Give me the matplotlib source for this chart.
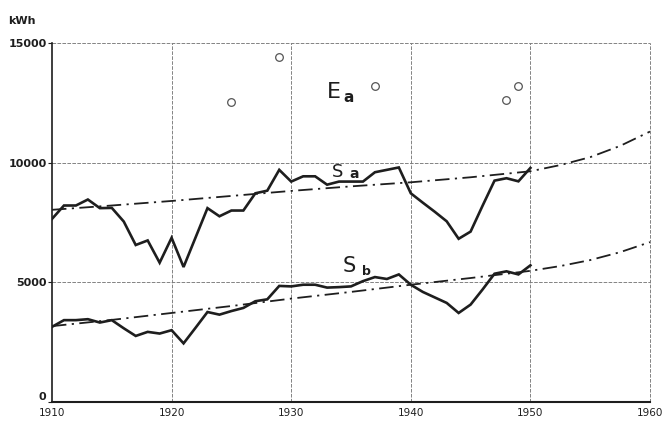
import numpy as np
import matplotlib
matplotlib.use("Agg")
import matplotlib.pyplot as plt

# --- data ---
years = list(range(1910, 1951))
sa = [7650, 8210, 8210, 8460, 8100, 8110, 7540, 6560, 6750, 5820,
      6860, 5640, 6870, 8100, 7760, 8000, 8000, 8720, 8830, 9700,
      9210, 9430, 9430, 9080, 9210, 9210, 9210, 9600, 9700, 9800,
      8720, 8330, 7950, 7550, 6820, 7120, 8200, 9250, 9350, 9220,
      9780]
sb = [3140, 3420, 3420, 3460, 3320, 3420, 3080, 2760, 2930, 2860,
      3000, 2450, 3100, 3760, 3650, 3800, 3930, 4210, 4290, 4850,
      4830, 4900, 4900, 4780, 4800, 4830, 5050, 5220, 5140, 5330,
      4900, 4600, 4370, 4140, 3720, 4070, 4700, 5360, 5460, 5330,
      5710]

trend_years = [1910, 1915, 1920, 1925, 1930, 1935, 1940, 1945, 1950,
               1952.5, 1955, 1957.5, 1960]
sa_trend = [8030, 8210, 8400, 8610, 8820, 9010, 9180, 9390, 9640,
            9900, 10230, 10700, 11300]
sb_trend = [3170, 3430, 3720, 4010, 4320, 4600, 4900, 5180, 5480,
            5680, 5930, 6260, 6680]

ea_years = [1925, 1929, 1937, 1948, 1949]
ea = [12540, 14420, 13210, 12630, 13210]

xticks = [1910, 1920, 1930, 1940, 1950, 1960]
yticks = [0, 5000, 10000, 15000]

#%%
fig = plt.figure(figsize=(6.62, 4.23), dpi=100)
ax = fig.add_axes([52/662, 21/423, 598/662, 359/423])

ink = '#1e1e1e'
gridc = '#7a7a7a'
grid_ls = (0, (4, 1.5))

for x in xticks[1:]:
    ax.axvline(x, color=gridc, lw=0.65, ls=grid_ls, clip_on=False, zorder=1)
for y in yticks[1:]:
    ax.axhline(y, color=gridc, lw=0.65, ls=grid_ls, clip_on=False, zorder=1)

dashdot = (0, (8, 3, 1.2, 3))
ax.plot(trend_years, sa_trend, color=ink, lw=1.3, ls=dashdot, zorder=2)
ax.plot(trend_years, sb_trend, color=ink, lw=1.3, ls=dashdot, zorder=2)

ax.plot(years, sa, color=ink, lw=1.9, solid_joinstyle='miter', zorder=3)
ax.plot(years, sb, color=ink, lw=1.9, solid_joinstyle='miter', zorder=3)

ax.plot(ea_years, ea, 'o', ms=5.5, mfc='white', mec='#555555', mew=0.9, zorder=4)

# curve labels
ax.text(1933.0, 12700, 'E', fontsize=16, color=ink, va='baseline')
ax.text(1934.4, 12550, 'a', fontsize=11, weight='bold', color=ink, va='baseline')
ax.text(1933.4, 9420, 'S', fontsize=13, color=ink, va='baseline')
ax.text(1934.9, 9375, 'a', fontsize=10, weight='bold', color=ink, va='baseline')
ax.text(1934.3, 5420, 'S', fontsize=15, color=ink, va='baseline')
ax.text(1935.9, 5290, 'b', fontsize=9, weight='bold', color=ink, va='baseline')

ax.set_xlim(1910, 1960)
ax.set_ylim(0, 15000)
ax.set_xticks(xticks)
ax.set_yticks(yticks)
ax.set_yticklabels([str(v) for v in yticks], fontsize=8, weight='bold', color=ink)
ax.set_xticklabels([str(v) for v in xticks], fontsize=7.5, color=ink)
ax.get_yticklabels()[0].set_verticalalignment('bottom')
ax.tick_params(axis='y', length=3, width=0.8, pad=1, color=ink)
ax.tick_params(axis='x', length=0, pad=4)

ax.spines['top'].set_visible(False)
ax.spines['right'].set_visible(False)
ax.spines['left'].set_linewidth(1.2)
ax.spines['bottom'].set_linewidth(1.5)
ax.spines['left'].set_color(ink)
ax.spines['bottom'].set_color(ink)

fig.text(8/662, 1 - 24/423, 'kWh', fontsize=8, weight='bold', color=ink)

fig.savefig('out.png', dpi=100)
